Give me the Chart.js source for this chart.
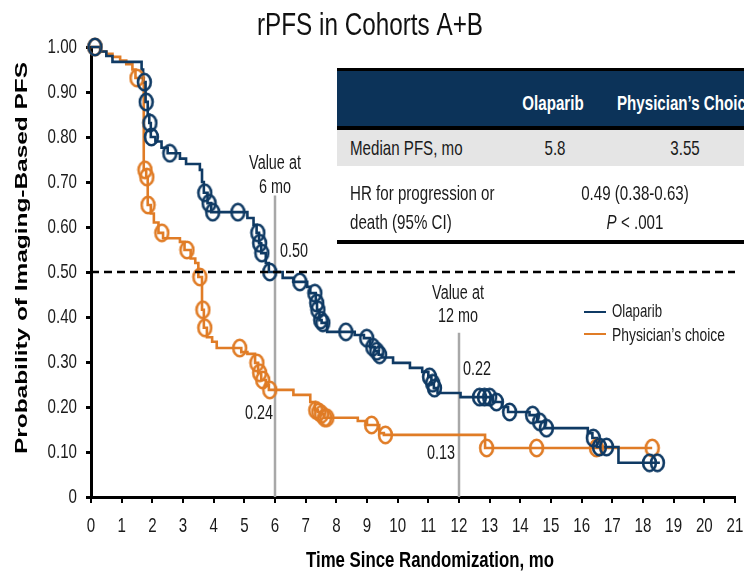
<!DOCTYPE html>
<html><head><meta charset="utf-8">
<script src="https://cdn.jsdelivr.net/npm/chart.js@4.4.1/dist/chart.umd.min.js"></script>
<style>
html,body{margin:0;padding:0;background:#fff;overflow:hidden;width:744px;height:576px;}
#wrap{position:relative;width:744px;height:576px;overflow:hidden;}
#c{position:absolute;left:0;top:0;}
.bar{position:absolute;left:337px;width:420px;}
.t{position:absolute;white-space:nowrap;font-family:"Liberation Sans",Arial,sans-serif;font-size:21px;color:#1a1a1a;line-height:22px;}
.c{transform:translate(-50%,-50%) scaleX(0.72);transform-origin:50% 50%;}
.l{transform:translate(0,-50%) scaleX(0.72);transform-origin:0 50%;}
.h{color:#fff;font-weight:bold;font-size:21px;}
</style></head>
<body><div id="wrap">
<canvas id="c" width="744" height="576"></canvas>
<div class="bar" style="top:68px;height:3px;background:#000"></div>
<div class="bar" style="top:71px;height:55px;background:#0c3359"></div>
<div class="bar" style="top:126px;height:4px;background:#000"></div>
<div class="bar" style="top:130px;height:36px;background:#e5e5e5"></div>
<div class="bar" style="top:240px;height:4px;background:#000"></div>
<div id="tbltext"></div>
</div>
<script>
// ---------- DATA ----------
const xTickLabels = ['0','1','2','3','4','5','6','7','8','9','10','11','12','13','14','15','16','17','18','19','20','21'];
const yTickLabels = ['0','0.10','0.20','0.30','0.40','0.50','0.60','0.70','0.80','0.90','1.00'];

const seriesNames = ['Olaparib', 'Physician\u2019s choice'];

// Olaparib KM steps (month, survival after step)
const olaparibTime = [0,0.3,0.5,0.7,1.65,1.7,1.78,1.85,1.9,1.95,2.1,2.3,2.5,2.9,3.1,3.55,3.62,3.68,3.8,3.92,5.1,5.3,5.4,5.48,5.55,5.7,5.8,6.25,6.6,7.05,7.15,7.33,7.37,7.45,7.52,7.7,8.6,8.9,9.1,9.25,9.38,9.5,9.85,10.4,10.8,11.0,11.1,11.18,11.3,12.05,13.1,13.4,13.6,14.3,14.55,14.8,16.2,16.35,16.5,17.2,18.55];
const olaparibSurv = [1.0,0.99,0.98,0.967,0.95,0.922,0.878,0.85,0.831,0.80,0.79,0.776,0.764,0.752,0.74,0.727,0.70,0.676,0.653,0.633,0.62,0.605,0.587,0.564,0.542,0.52,0.50,0.487,0.478,0.467,0.453,0.431,0.416,0.393,0.387,0.367,0.36,0.353,0.333,0.324,0.316,0.31,0.298,0.287,0.278,0.267,0.253,0.242,0.231,0.222,0.211,0.2,0.189,0.182,0.167,0.153,0.142,0.131,0.111,0.076,0.076];
const olaparibCensorTime = [0.13,1.74,1.8,1.92,1.97,2.57,3.71,3.85,3.97,4.79,5.44,5.5,5.57,5.83,6.81,7.3,7.36,7.4,7.49,7.56,8.31,8.99,9.19,9.32,9.41,11.04,11.14,11.2,12.67,12.83,13.0,13.22,13.65,14.4,14.63,14.85,16.38,16.58,16.81,18.21,18.47];
const olaparibCensorSurv = [1.0,0.922,0.878,0.831,0.80,0.764,0.676,0.653,0.633,0.633,0.587,0.564,0.542,0.50,0.478,0.453,0.431,0.416,0.393,0.387,0.367,0.353,0.333,0.324,0.316,0.267,0.253,0.242,0.222,0.222,0.222,0.211,0.189,0.182,0.167,0.153,0.131,0.111,0.111,0.076,0.076];

// Physician's choice KM steps
const physTime = [0,0.3,0.5,0.7,0.95,1.15,1.35,1.45,1.72,1.8,1.85,1.95,2.05,2.2,2.35,2.9,3.05,3.25,3.4,3.5,3.62,3.68,3.78,3.95,4.1,4.9,5.1,5.35,5.45,5.55,5.7,5.8,6.6,7.15,7.3,7.4,7.5,7.6,8.7,9.0,9.4,9.55,12.85,18.3];
const physSurv = [1.0,0.99,0.985,0.978,0.97,0.962,0.95,0.931,0.727,0.711,0.649,0.63,0.61,0.587,0.575,0.567,0.549,0.53,0.52,0.489,0.416,0.376,0.355,0.345,0.331,0.322,0.318,0.298,0.276,0.26,0.248,0.238,0.227,0.211,0.193,0.189,0.184,0.176,0.169,0.16,0.142,0.138,0.109,0.109];
const physCensorTime = [0.13,1.5,1.76,1.82,1.86,2.31,3.13,3.55,3.65,3.71,4.85,5.41,5.5,5.6,5.83,7.33,7.43,7.52,7.62,7.69,9.15,9.6,12.9,14.53,16.48,18.3];
const physCensorSurv = [1.0,0.931,0.727,0.711,0.649,0.587,0.549,0.489,0.416,0.376,0.331,0.298,0.276,0.26,0.238,0.193,0.189,0.184,0.176,0.176,0.16,0.138,0.109,0.109,0.109,0.109];

const medianLine = 0.50;
const milestoneMonths = [6, 12];
const milestoneOlaparib = ['0.50', '0.22'];
const milestonePhys = ['0.24', '0.13'];

const tableHeader = ['', 'Olaparib', 'Physician\u2019s Choice'];
const tableMedian = ['Median PFS, mo', '5.8', '3.55'];
const tableHR = ['HR for progression or', 'death (95% CI)', '0.49 (0.38-0.63)', '.001'];

// ---------- STYLE ----------
const NAVY = '#0f3a64', ORANGE = '#e07c26', GRAY = '#a8a8a8';
const FONT = '"Liberation Sans",Arial,sans-serif';
const SX = 0.72; // horizontal condensing of the (narrow-looking) typeface

// table text (HTML)
(function(){
  const T = document.getElementById('tbltext');
  function add(txt, x, y, cls){
    const d = document.createElement('div');
    d.className = 't ' + cls; d.style.left = x + 'px'; d.style.top = y + 'px';
    d.innerHTML = txt; T.appendChild(d);
  }
  add(tableHeader[1], 553, 103, 'c h');
  add(tableHeader[2], 617, 103, 'l h');
  add(tableMedian[0], 350, 148, 'l');
  add(tableMedian[1], 555, 148, 'c');
  add(tableMedian[2], 685, 148, 'c');
  add(tableHR[0], 350, 193, 'l');
  add(tableHR[1], 350, 222, 'l');
  add(tableHR[2], 635, 193, 'c');
  add('<i>P</i> &lt; ' + tableHR[3], 635, 222, 'c');
})();

// condensed text rendering on the chart canvas
const canvas = document.getElementById('c');
const ctx0 = canvas.getContext('2d');
const rawFill = ctx0.fillText.bind(ctx0);
ctx0.fillText = function(t, x, y){
  this.save(); this.translate(x, y); this.scale(SX, 1); rawFill(t, 0, 0); this.restore();
};

function ring(color){
  const c = document.createElement('canvas'); c.width = 17; c.height = 20;
  const g = c.getContext('2d'); g.strokeStyle = color; g.lineWidth = 2.6;
  g.beginPath(); g.ellipse(8.5, 10, 6.4, 8.2, 0, 0, Math.PI*2); g.stroke();
  return c;
}
const pts = (xs, ys) => xs.map((t,i)=>({x:t, y:ys[i]}));

function drawText(ctx, txt, x, y, font, align, targetW, color){
  ctx.save();
  ctx.font = font; ctx.fillStyle = color || '#1a1a1a';
  ctx.textBaseline = 'middle'; ctx.textAlign = align || 'center';
  const sx = targetW ? targetW / ctx.measureText(txt).width : SX;
  ctx.translate(x, y); ctx.scale(sx, 1);
  rawFill(txt, 0, 0);
  ctx.restore();
}

const textPlugin = {
  id: 'texts',
  afterDraw(chart){
    const ctx = chart.ctx, xs = chart.scales.x;
    drawText(ctx, 'rPFS in Cohorts A+B', 370, 26, '32px ' + FONT, 'center', 226, '#111');
    drawText(ctx, 'Time Since Randomization, mo', 430, 561, 'bold 22px ' + FONT, 'center', 248, '#000');
    ctx.save();
    ctx.translate(22, 258); ctx.rotate(-Math.PI/2);
    drawText(ctx, 'Probability of Imaging-Based PFS', 0, 0, 'bold 17px ' + FONT, 'center', 392, '#000');
    ctx.restore();
    const x6 = xs.getPixelForValue(milestoneMonths[0]);
    const x12 = xs.getPixelForValue(milestoneMonths[1]);
    const f = '20px ' + FONT;
    drawText(ctx, 'Value at', x6, 163, f, 'center');
    drawText(ctx, '6 mo', x6, 187, f, 'center');
    drawText(ctx, 'Value at', x12 - 1, 293, f, 'center');
    drawText(ctx, '12 mo', x12 - 1, 316, f, 'center');
    drawText(ctx, milestoneOlaparib[0], x6 + 5, 251, f, 'left');
    drawText(ctx, milestonePhys[0], x6 - 2, 413, f, 'right');
    drawText(ctx, milestoneOlaparib[1], x12 + 4, 369, f, 'left');
    drawText(ctx, milestonePhys[1], x12 - 4, 453, f, 'right');
    ctx.save(); ctx.lineWidth = 2;
    ctx.strokeStyle = NAVY; ctx.beginPath(); ctx.moveTo(584, 312); ctx.lineTo(606, 312); ctx.stroke();
    ctx.strokeStyle = ORANGE; ctx.beginPath(); ctx.moveTo(584, 334); ctx.lineTo(606, 334); ctx.stroke();
    ctx.restore();
    drawText(ctx, seriesNames[0], 612, 312, '18px ' + FONT, 'left', 50);
    drawText(ctx, seriesNames[1], 612, 336, '18px ' + FONT, 'left', 113);
  }
};

const tickFont = {family: FONT, size: 21};

new Chart(canvas, {
  type: 'line',
  data: {
    datasets: [
      {label:'m6', data: [{x:milestoneMonths[0], y:0}, {x:milestoneMonths[0], y:0.67}], borderColor: GRAY, borderWidth: 2.5, pointRadius: 0, order: 10},
      {label:'m12', data: [{x:milestoneMonths[1], y:0}, {x:milestoneMonths[1], y:0.365}], borderColor: GRAY, borderWidth: 2.5, pointRadius: 0, order: 10},
      {label: seriesNames[1], data: pts(physTime, physSurv), stepped: true, borderColor: ORANGE, borderWidth: 2.6, pointRadius: 0, clip: false, order: 6},
      {label: seriesNames[0], data: pts(olaparibTime, olaparibSurv), stepped: true, borderColor: NAVY, borderWidth: 2.6, pointRadius: 0, clip: false, order: 5},
      {label: 'pc-c', data: pts(physCensorTime, physCensorSurv), showLine: false, pointStyle: ring(ORANGE), pointRadius: 8, clip: false, order: 4},
      {label: 'ol-c', data: pts(olaparibCensorTime, olaparibCensorSurv), showLine: false, pointStyle: ring(NAVY), pointRadius: 8, clip: false, order: 3},
      {label:'median', data: [{x:0, y:medianLine}, {x:21, y:medianLine}], borderColor: '#000', borderWidth: 2.5, borderDash: [8,5], pointRadius: 0, order: 1}
    ]
  },
  options: {
    responsive: false, animation: false, devicePixelRatio: 1,
    layout: {padding: {top: 47, right: 8, left: 0, bottom: 0}},
    plugins: {legend: {display: false}, tooltip: {enabled: false}, title: {display: false}},
    scales: {
      x: {
        type: 'linear', min: 0, max: 21,
        afterFit(s){ s.height = 79; s.paddingLeft = 0; s.paddingRight = 0; },
        ticks: {stepSize: 1, autoSkip: false, maxRotation: 0, font: tickFont, color: '#1a1a1a', padding: 11,
                callback: (v) => xTickLabels[Math.round(v)]},
        grid: {drawOnChartArea: false, drawTicks: true, tickLength: 6, color: '#000', lineWidth: 2},
        border: {display: true, color: '#000', width: 3}
      },
      y: {
        min: 0, max: 1,
        afterFit(s){ s.width = 91; s.paddingTop = 0; s.paddingBottom = 0; },
        ticks: {stepSize: 0.1, font: tickFont, color: '#1a1a1a', padding: 9,
                callback: (v) => yTickLabels[Math.round(v*10)]},
        grid: {drawOnChartArea: false, drawTicks: true, tickLength: 5, color: '#000', lineWidth: 3},
        border: {display: true, color: '#000', width: 3}
      }
    }
  },
  plugins: [textPlugin]
});
</script>
</body></html>
